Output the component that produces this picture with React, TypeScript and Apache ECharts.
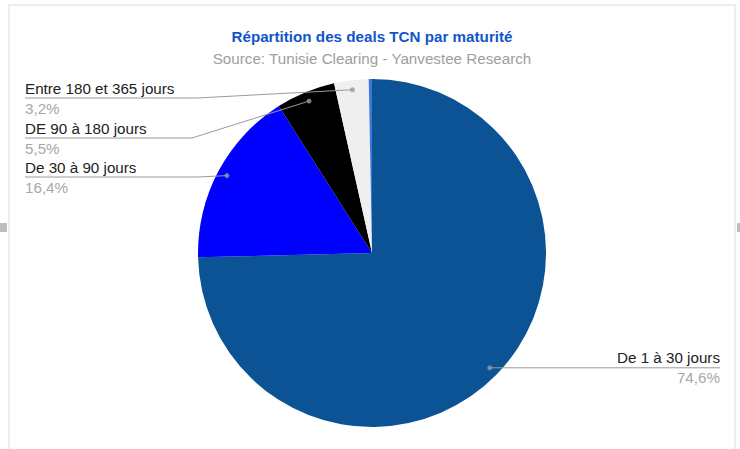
import React, { useEffect, useRef } from "react";
import * as echarts from "echarts";

const titleText = "Répartition des deals TCN par maturité";
const subtitleText = "Source: Tunisie Clearing - Yanvestee Research";

const categories = [
  "De 1 à 30 jours",
  "De 30 à 90 jours",
  "DE 90 à 180 jours",
  "Entre 180 et 365 jours",
  "Plus de 365 jours",
];
const shares = [74.6, 16.4, 5.5, 3.2, 0.3];
const sliceColors = ["#0b5394", "#0000ff", "#000000", "#efefef", "#3c78d8"];
const labelled = [true, true, true, true, false];

const FONT = "'Liberation Sans', Arial, sans-serif";
const FS = 15.2;
const CX = 372;
const CY = 253;
const R = 174;
const DOT_K = 0.945;
const LEFT_X = 25;
const RIGHT_X = 720;
const leftLineY: Record<number, number> = { 1: 177, 2: 138, 3: 98 };
const leftBendX: Record<number, number> = { 1: 198, 2: 192, 3: 197 };

function fmtPct(v: number) {
  return v.toFixed(1).replace(".", ",") + "%";
}

export default function App() {
  const ref = useRef<HTMLDivElement>(null);
  useEffect(() => {
    if (!ref.current) return;
    const chart = echarts.init(ref.current, undefined, { renderer: "svg" });
    const total = shares.reduce((a, b) => a + b, 0);
    const mids: number[] = [];
    let acc = 0;
    shares.forEach((v) => {
      mids.push(acc + v / 2);
      acc += v;
    });
    const dotData = shares
      .map((v, i) => (labelled[i] ? [DOT_K, mids[i]] : null))
      .filter((d) => d !== null);

    chart.setOption({
      animation: false,
      backgroundColor: "#ffffff",
      title: [
        {
          text: titleText,
          left: CX,
          top: 29,
          textAlign: "center",
          padding: 0,
          textStyle: { fontFamily: FONT, fontSize: FS, fontWeight: "bold", color: "#1155cc" },
        },
        {
          text: subtitleText,
          left: CX,
          top: 51,
          textAlign: "center",
          padding: 0,
          textStyle: { fontFamily: FONT, fontSize: FS, fontWeight: "normal", color: "#9e9e9e" },
        },
      ],
      graphic: [
        { type: "rect", shape: { x: 8, y: 4, width: 728, height: 2 }, style: { fill: "#eeeeee" }, silent: true },
        { type: "rect", shape: { x: 8, y: 4, width: 2, height: 445 }, style: { fill: "#eeeeee" }, silent: true },
        { type: "rect", shape: { x: 734, y: 4, width: 2, height: 445 }, style: { fill: "#eeeeee" }, silent: true },
        { type: "rect", shape: { x: 0, y: 223, width: 7, height: 9 }, style: { fill: "#bdbdbd" }, silent: true },
        { type: "rect", shape: { x: 737, y: 223, width: 3, height: 9 }, style: { fill: "#bdbdbd" }, silent: true },
      ],
      polar: { center: [CX, CY], radius: R },
      angleAxis: {
        type: "value",
        min: 0,
        max: total,
        startAngle: 90,
        clockwise: true,
        show: false,
      },
      radiusAxis: { type: "value", min: 0, max: 1, show: false },
      series: [
        {
          type: "pie",
          z: 2,
          center: [CX, CY],
          radius: R,
          startAngle: 90,
          clockwise: true,
          itemStyle: { borderWidth: 0 },
          emphasis: { disabled: true },
          label: { show: false },
          labelLine: { show: false },
          data: categories.map((name, i) => ({
            name,
            value: shares[i],
            itemStyle: { color: sliceColors[i] },
          })),
        },
        {
          type: "pie",
          z: 3,
          center: [CX, CY],
          radius: R,
          startAngle: 90,
          clockwise: true,
          avoidLabelOverlap: false,
          silent: true,
          itemStyle: { color: "rgba(0,0,0,0)", borderWidth: 0 },
          emphasis: { disabled: true },
          label: {
            show: true,
            position: "outside",
            overflow: "none",
            formatter: (p: any) => `{n|${p.name}}\n{p|${fmtPct(p.value)}}`,
            rich: {
              n: { fontFamily: FONT, fontSize: FS, color: "#222222", lineHeight: 20 },
              p: { fontFamily: FONT, fontSize: FS, color: "#a8a8a8", lineHeight: 20 },
            },
          },
          labelLine: {
            show: true,
            showAbove: true,
            length: 10,
            length2: 10,
            lineStyle: { color: "#9a9a9a", width: 1 },
          },
          labelLayout: (p: any) => {
            const i = p.dataIndex;
            const pts = p.labelLinePoints;
            if (!pts || !labelled[i]) return {};
            const s = [CX + (pts[0][0] - CX) * DOT_K, CY + (pts[0][1] - CY) * DOT_K];
            if (i === 0) {
              return {
                x: RIGHT_X,
                y: s[1],
                align: "right",
                verticalAlign: "middle",
                labelLinePoints: [s, [s[0] + 1, s[1]], [RIGHT_X, s[1]]],
              };
            }
            const y = leftLineY[i];
            return {
              x: LEFT_X,
              y,
              align: "left",
              verticalAlign: "middle",
              labelLinePoints: [s, [leftBendX[i], y], [LEFT_X, y]],
            };
          },
          data: categories.map((name, i) => ({
            name,
            value: shares[i],
            label: { show: labelled[i] },
            labelLine: { show: labelled[i] },
          })),
        },
        {
          type: "scatter",
          coordinateSystem: "polar",
          symbolSize: 5,
          itemStyle: { color: "#9a9a9a" },
          silent: true,
          z: 5,
          data: dotData,
        },
      ],
    });
    return () => chart.dispose();
  }, []);
  return (
    <div
      ref={ref}
      style={{ position: "absolute", left: 0, top: 0, width: 740, height: 449 }}
    />
  );
}
